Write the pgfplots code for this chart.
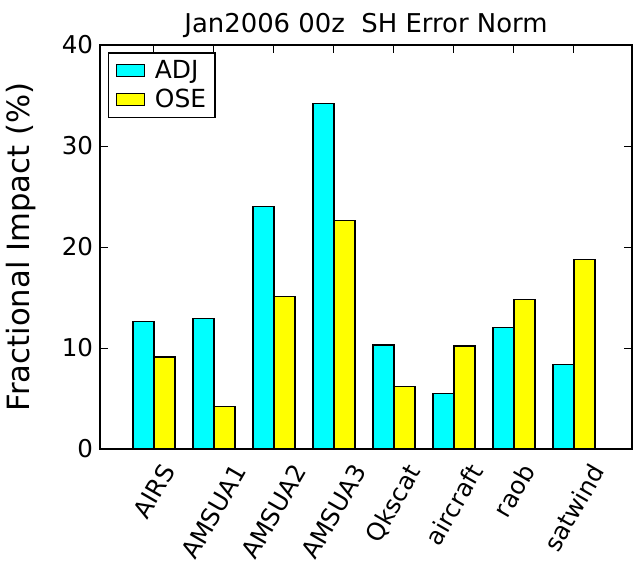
\documentclass[border=0pt]{standalone}
\usepackage{pgfplots}
\pgfplotsset{compat=1.18}
\usepackage{fontspec}
\setmainfont{DejaVu Sans}
\definecolor{mcyan}{rgb}{0,1,1}
\definecolor{myellow}{rgb}{1,1,0}
\begin{document}
\begin{tikzpicture}
\begin{axis}[
  name=ax,
  scale only axis,
  width=266bp, height=202bp,
  xmin=-0.55, xmax=8.317,
  ymin=0, ymax=40,
  ytick={0,10,20,30,40},
  xtick={0.35,1.35,2.35,3.35,4.35,5.35,6.35,7.35},
  xticklabels={\rotatebox{60}{AIRS},\rotatebox{60}{AMSUA1},\rotatebox{60}{AMSUA2},\rotatebox{60}{AMSUA3},\rotatebox{60}{Qkscat},\rotatebox{60}{aircraft},\rotatebox{60}{raob},\rotatebox{60}{satwind}},
  xticklabel style={anchor=north, yshift=-3bp, font=\fontsize{12.3}{14}\selectfont},
  yticklabel style={font=\fontsize{12.3}{14}\selectfont},
  /pgf/number format/assume math mode=true,
  tick align=inside,
  major tick length=4bp,
  tick style={black, line width=0.5bp},
  axis line style={line width=1bp},
  ylabel={Fractional Impact (\%)},
  ylabel style={font=\fontsize{15.4}{17}\selectfont, yshift=6bp},
  title={Jan2006 00z\ \ SH Error Norm},
  title style={font=\fontsize{13}{15}\selectfont, yshift=-6bp},
  legend style={at={(0.0145,0.9825)}, anchor=north west, draw=black, line width=0.8bp, font=\fontsize{12.5}{14}\selectfont, inner xsep=3.5bp, inner ysep=2.5bp, row sep=2bp, nodes={inner xsep=1bp, inner ysep=1bp}},
  legend cell align=left,
  legend image code/.code={\draw[#1, line width=0.7bp] (0bp,-3bp) rectangle (14bp,3bp);},
]
\addplot[ybar, bar width=0.35, fill=mcyan, draw=black, line width=0.6bp] coordinates {
 (0.175,12.6) (1.175,12.9) (2.175,24.0) (3.175,34.2) (4.175,10.3) (5.175,5.5) (6.175,12.0) (7.175,8.4)};
\addlegendentry{\hspace{4bp}ADJ\hspace{4bp}}
\addplot[ybar, bar width=0.35, fill=myellow, draw=black, line width=0.6bp] coordinates {
 (0.525,9.1) (1.525,4.2) (2.525,15.1) (3.525,22.6) (4.525,6.2) (5.525,10.2) (6.525,14.8) (7.525,18.8)};
\addlegendentry{\hspace{4bp}OSE\hspace{4bp}}
\end{axis}
\pgfresetboundingbox
\path ([shift={(-50bp,-57bp)}]ax.south west) rectangle ([shift={(1bp,22.5bp)}]ax.north east);
\end{tikzpicture}
\end{document}
